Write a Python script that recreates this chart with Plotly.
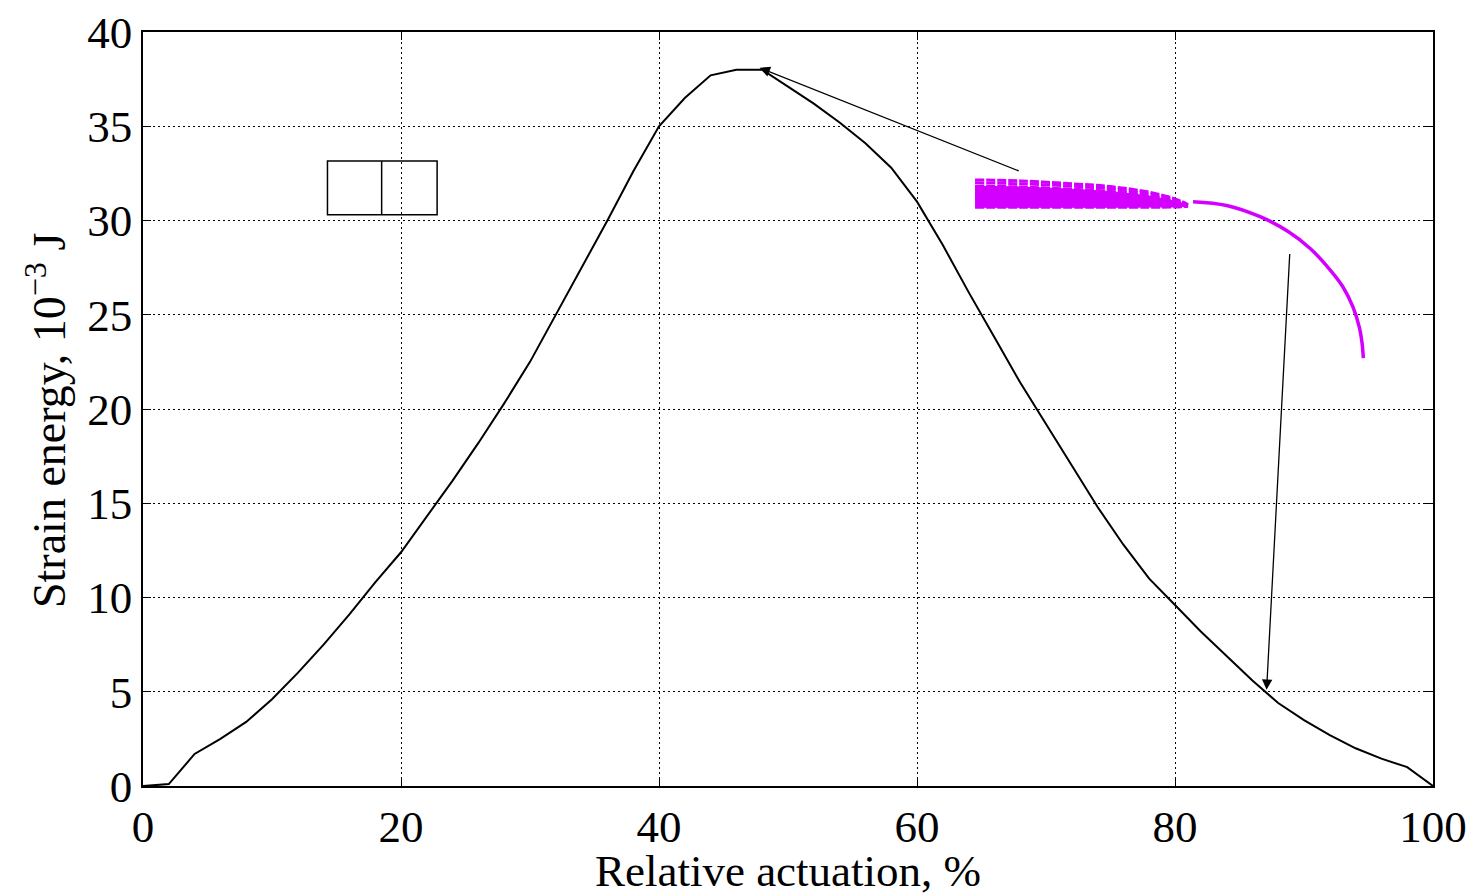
import plotly.graph_objects as go

# Main strain-energy curve
actuation = [0, 2, 4, 6, 8, 10, 12, 14, 16, 18, 20, 22, 24, 26, 28, 30, 32, 34, 36, 38, 40, 42, 44,
             46, 48, 50, 52, 54, 56, 58, 60, 62, 64, 66, 68, 70, 72, 74, 76, 78, 80, 82, 84, 86,
             88, 90, 92, 94, 96, 98, 100]
energy = [0, 0.1, 1.7, 2.5, 3.4, 4.6, 6.0, 7.5, 9.1, 10.8, 12.4, 14.3, 16.2, 18.2, 20.3, 22.5,
          25.0, 27.5, 30.0, 32.6, 35.0, 36.5, 37.7, 38.0, 38.0, 37.1, 36.2, 35.2, 34.1, 32.8,
          31.0, 28.7, 26.2, 23.8, 21.4, 19.2, 17.0, 14.8, 12.8, 11.0, 9.6, 8.2, 6.9, 5.6,
          4.4, 3.5, 2.7, 2.0, 1.45, 1.0, 0]

# Magenta sketch: bundle of dashed lines (converging) and the arc
bundle_x = [64.5, 68, 72, 75, 78, 80, 81]
bundle_y1 = [32.15, 32.1, 31.95, 31.8, 31.5, 31.15, 30.85]
bundle_y2 = [32.0, 31.95, 31.82, 31.68, 31.4, 31.08, 30.82]
bundle_y3 = [31.82, 31.78, 31.66, 31.54, 31.3, 31.02, 30.8]
bundle_y4 = [31.62, 31.58, 31.48, 31.38, 31.18, 30.96, 30.78]
bundle_y5 = [31.4, 31.36, 31.28, 31.2, 31.05, 30.9, 30.76]
bundle_y6 = [31.15, 31.12, 31.06, 31.0, 30.92, 30.84, 30.75]
bundle_y7 = [30.7, 30.7, 30.7, 30.7, 30.7, 30.72, 30.75]
bundle_lines = [bundle_y1, bundle_y2, bundle_y3, bundle_y4, bundle_y5, bundle_y6, bundle_y7]

arc_x = [81.4, 84.0, 86.6, 88.8, 90.5, 92.0, 93.0, 93.8, 94.3, 94.5, 94.6]
arc_y = [31.0, 30.8, 30.2, 29.4, 28.5, 27.4, 26.5, 25.4, 24.3, 23.5, 22.7]

# Arrows: (tail x, tail y, head x, head y)
arrow1 = (68.0, 32.6, 47.8, 38.1)
arrow2 = (88.9, 28.3, 87.1, 5.1)

# Small rectangle sketch
rect = (14.3, 30.3, 22.8, 33.15)
rect_divider = 18.5

x_ticks = [0, 20, 40, 60, 80, 100]
y_ticks = [0, 5, 10, 15, 20, 25, 30, 35, 40]

X_TITLE = "Relative actuation, %"
Y_TITLE = "Strain energy, 10<sup>−3</sup> J"

FONT = "Liberation Serif"
MAG = "#d400ff"

fig = go.Figure()

fig.add_trace(go.Scatter(x=actuation, y=energy, mode="lines",
                         line=dict(color="black", width=2), showlegend=False))

# solid fill under the lower part of the bundle
fig.add_trace(go.Scatter(x=bundle_x + bundle_x[::-1], y=bundle_y3 + bundle_y7[::-1],
                         mode="lines", fill="toself", fillcolor=MAG,
                         line=dict(color=MAG, width=1), showlegend=False))
for by in bundle_lines:
    fig.add_trace(go.Scatter(x=bundle_x, y=by, mode="lines",
                             line=dict(color=MAG, width=3, dash="9px,2px", shape="spline"),
                             showlegend=False))

fig.add_trace(go.Scatter(x=arc_x, y=arc_y, mode="lines",
                         line=dict(color=MAG, width=3.5, shape="spline"), showlegend=False))

for (tx, ty, hx, hy) in [arrow1, arrow2]:
    fig.add_annotation(x=hx, y=hy, ax=tx, ay=ty, xref="x", yref="y", axref="x", ayref="y",
                       showarrow=True, arrowhead=2, arrowsize=1.6, arrowwidth=1.3,
                       arrowcolor="black", text="")

fig.add_shape(type="rect", x0=rect[0], y0=rect[1], x1=rect[2], y1=rect[3],
              line=dict(color="black", width=1.5))
fig.add_shape(type="line", x0=rect_divider, y0=rect[1], x1=rect_divider, y1=rect[3],
              line=dict(color="black", width=1.5))

# y axis title as a rotated annotation for exact placement
fig.add_annotation(text=Y_TITLE, xref="paper", yref="paper", x=0, y=0.5,
                   xanchor="center", yanchor="middle", xshift=-97, yshift=-12,
                   textangle=-90, showarrow=False,
                   font=dict(family=FONT, size=46, color="black"))

axis_common = dict(showline=True, linecolor="black", linewidth=1.5, mirror="ticks",
                   ticks="inside", ticklen=8, tickwidth=1.2, tickcolor="black",
                   showgrid=True, gridcolor="black", gridwidth=1, griddash="2px,3px",
                   zeroline=False, automargin=False, ticklabeloverflow="allow",
                   tickfont=dict(family=FONT, size=45, color="black"))

fig.update_xaxes(range=[0, 100], tickvals=x_ticks, ticktext=[str(v) for v in x_ticks],
                 title=dict(text=X_TITLE, font=dict(family=FONT, size=45, color="black"),
                            standoff=0),
                 **axis_common)
fig.update_yaxes(range=[0, 40], tickvals=y_ticks, ticktext=[str(v) for v in y_ticks],
                 **axis_common)

fig.update_layout(width=1474, height=888, plot_bgcolor="white", paper_bgcolor="white",
                  margin=dict(l=135, r=49, t=24, b=110), showlegend=False)

fig.write_html("out.html")
